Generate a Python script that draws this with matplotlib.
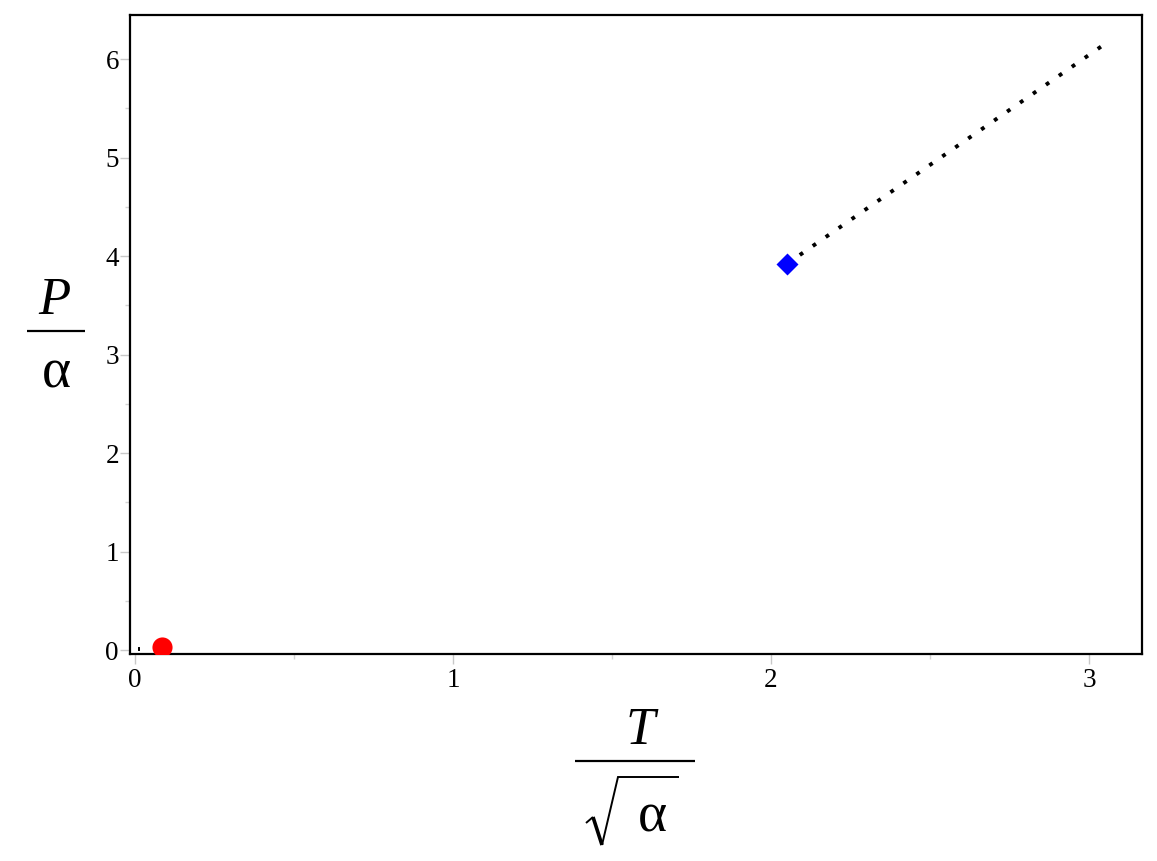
import matplotlib
matplotlib.use("Agg")
import matplotlib.pyplot as plt
from matplotlib.ticker import MultipleLocator
from matplotlib.lines import Line2D

plt.rcParams['font.family'] = ['Liberation Serif', 'DejaVu Serif']

# data
branch1_x = [0.010, 0.016]
branch1_y = [0.006, 0.006]
branch2_x = [2.05, 3.04]
branch2_y = [3.92, 6.13]
red_point = (0.084, 0.034)
blue_point = (2.05, 3.92)
xticks = [0, 1, 2, 3]
yticks = [0, 1, 2, 3, 4, 5, 6]

W, H = 1157, 861
fig = plt.figure(figsize=(W/100, H/100), dpi=100)
ax = fig.add_axes([130/W, 1-654/H, (1142-130)/W, (654-15)/H])

ax.plot(branch1_x, branch1_y, color='black', lw=2.8, linestyle=(0, (1, 3.05)),
        dash_capstyle='butt')
ax.plot(branch2_x, branch2_y, color='black', lw=2.8, linestyle=(0, (1, 3.05)),
        dash_capstyle='butt')
ax.plot([red_point[0]], [red_point[1]], 'o', color='#ff0000', ms=14.5, mec='none', zorder=5)
ax.plot([blue_point[0]], [blue_point[1]], 'D', color='#0000ff', ms=11, mec='none', zorder=5)

ax.set_xlim(-0.016, 3.167)
ax.set_ylim(-0.04, 6.447)
ax.set_xticks(xticks)
ax.set_yticks(yticks)
ax.xaxis.set_minor_locator(MultipleLocator(0.5))
ax.yaxis.set_minor_locator(MultipleLocator(0.5))
ax.tick_params(which='major', direction='out', length=7, width=1, color='#c8c8c8',
               labelsize=19.5)
ax.tick_params(axis='x', which='major', pad=3)
ax.tick_params(axis='y', which='major', pad=1)
ax.tick_params(which='minor', direction='out', length=3.5, width=1, color='#d4d4d4')
for s in ax.spines.values():
    s.set_linewidth(1.6)


def fx(px):
    return px / W


def fy(py):
    return 1 - py / H


def seg(xs, ys, lw):
    fig.add_artist(Line2D([fx(x) for x in xs], [fy(y) for y in ys],
                          transform=fig.transFigure, color='black', lw=lw,
                          solid_capstyle='butt', solid_joinstyle='miter'))


# y-axis label: P over alpha
fig.text(fx(54), fy(301), 'P', fontsize=38, style='italic', ha='center', va='center')
seg([27, 85], [331, 331], 1.6)
fig.text(fx(56), fy(374), 'α', fontsize=40, ha='center', va='center')

# x-axis label: T over sqrt(alpha)
fig.text(fx(640), fy(731), 'T', fontsize=38, style='italic', ha='center', va='center')
seg([575, 695], [761, 761], 1.6)
seg([586, 593], [823, 817], 1.4)
seg([593, 602], [817, 845], 2.6)
seg([602, 618, 679], [845, 777, 777], 1.4)
fig.text(fx(652), fy(817), 'α', fontsize=40, ha='center', va='center')

fig.savefig('out.png', dpi=100)
